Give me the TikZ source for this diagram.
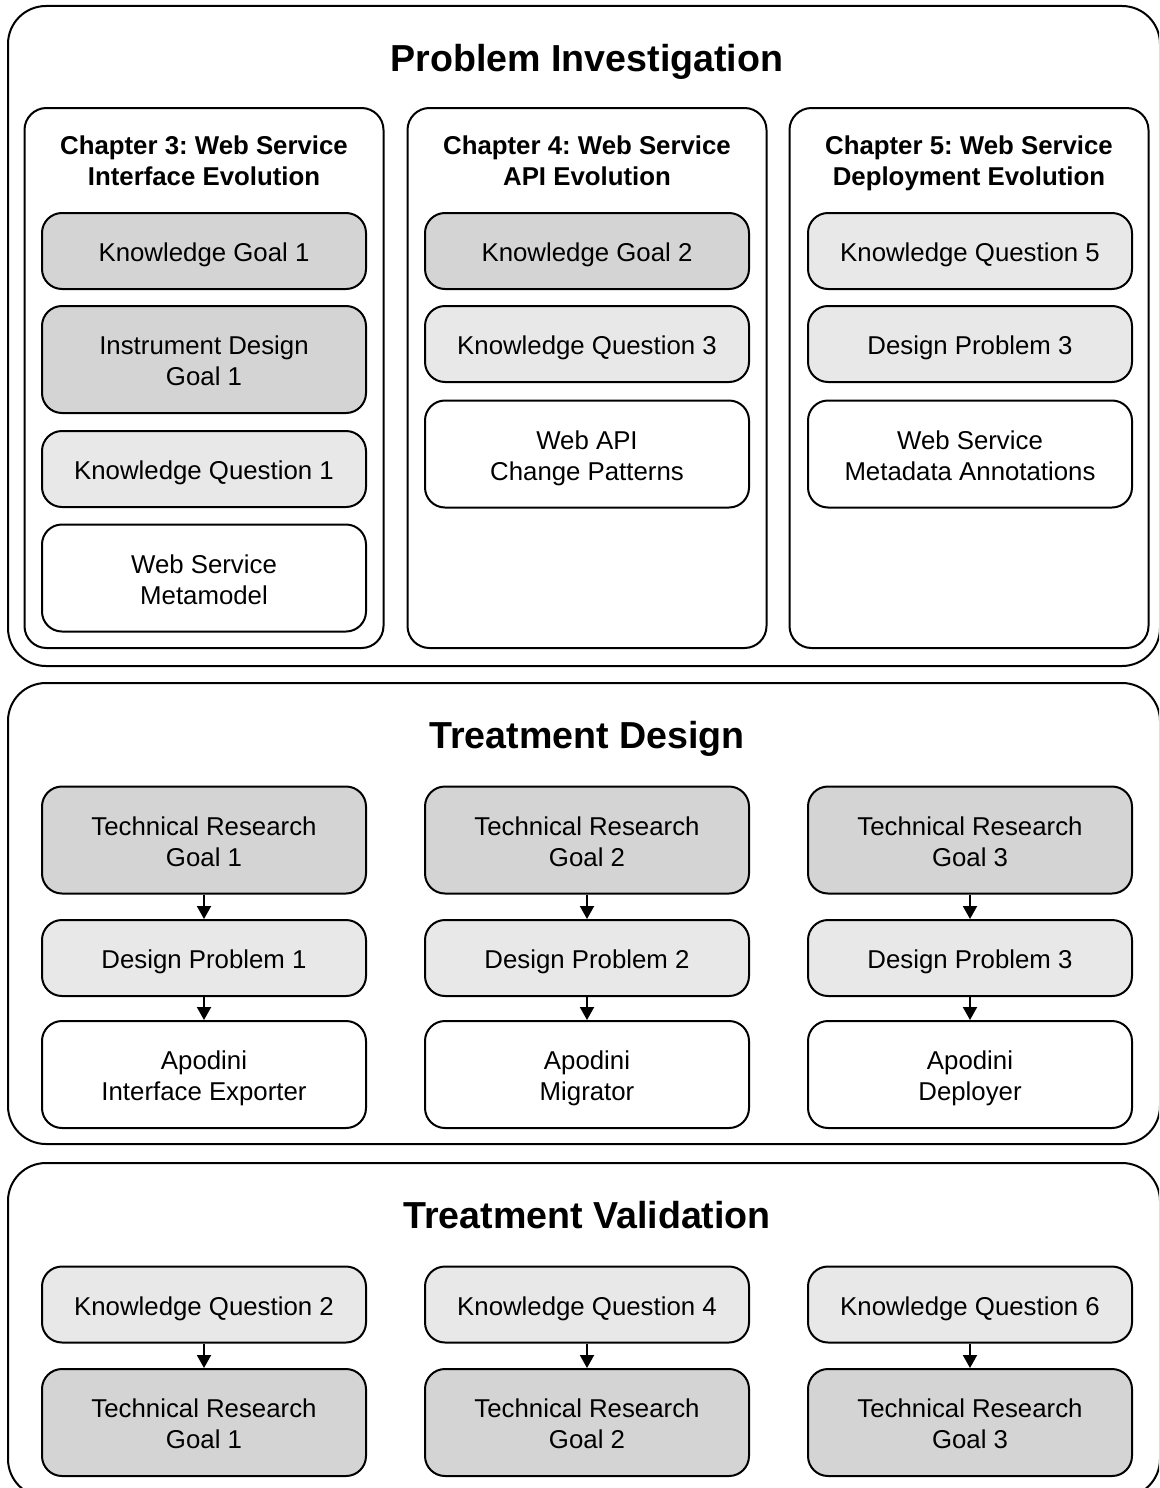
\documentclass[tikz,border=0pt]{standalone}
\usepackage{fontspec}
\setmainfont{Liberation Sans}
\usetikzlibrary{arrows.meta}
\definecolor{goalfill}{HTML}{D4D4D4}
\definecolor{questfill}{HTML}{E8E8E8}
% fixed line height and depth, so every label sits at the same height in its box
\newcommand\lineprop{\rule[-6pt]{0pt}{33.5pt}}
\newcommand\tophold{\rule{0pt}{27.5pt}}
\newcommand\bottomhold{\rule[-6pt]{0pt}{6pt}}
\newcommand\twoline[2]{\tophold#1\\#2\bottomhold}
\begin{document}
\frenchspacing
\begin{tikzpicture}[x=1pt,y=-1pt,
  panel/.style={draw, line width=2pt, rounded corners=38pt, inner sep=0pt, minimum width=1152pt},
  chapter/.style={draw, line width=2pt, rounded corners=22pt, inner sep=0pt, minimum width=359pt, minimum height=540pt},
  item/.style={draw, line width=2pt, rounded corners=20pt, inner sep=0pt, minimum width=324pt,
    align=center, font=\fontsize{25.8}{31}\selectfont},
  goal/.style={item, fill=goalfill},
  quest/.style={item, fill=questfill},
  result/.style={item, fill=white},
  short/.style={minimum height=76pt, execute at begin node=\lineprop},
  tall/.style={minimum height=107pt},
  phase/.style={anchor=base, inner sep=0pt, font=\fontsize{37.6}{45}\selectfont\bfseries},
  chtitle/.style={align=center, inner sep=0pt, font=\fontsize{25.8}{31}\selectfont\bfseries},
  flow/.style={line width=2pt, -{Triangle[length=13pt,width=14pt]}}
]
\useasboundingbox (0,0) rectangle (1159,1488);
\clip (0,0) rectangle (1159,1488);

% ---------- Problem Investigation ----------
\node[panel, minimum height=660pt] (pi) at (584,336) {};
\node[phase] (pititle) at (587,71) {Problem Investigation};

\node[chapter] (ch3) at (204,378) {};
\node[chapter] (ch4) at (587,378) {};
\node[chapter] (ch5) at (969,378) {};
\node[chtitle] (ch3t) at (204,159) {\twoline{Chapter 3: Web Service}{Interface Evolution}};
\node[chtitle] (ch4t) at (587,159) {\twoline{Chapter 4: Web Service}{API Evolution}};
\node[chtitle] (ch5t) at (969,159) {\twoline{Chapter 5: Web Service}{Deployment Evolution}};

\node[goal, short]  (kg1)  at (204,251)   {Knowledge Goal 1};
\node[goal, tall]   (idg1) at (204,359.5) {\twoline{Instrument Design}{Goal 1}};
\node[quest, short] (kq1)  at (204,469)   {Knowledge Question 1};
\node[result, tall] (wsm)  at (204,578)   {\twoline{Web Service}{Metamodel}};

\node[goal, short]  (kg2)  at (587,251) {Knowledge Goal 2};
\node[quest, short] (kq3)  at (587,344) {Knowledge Question 3};
\node[result, tall] (wacp) at (587,454) {\twoline{Web API}{Change Patterns}};

\node[quest, short] (kq5)  at (970,251) {Knowledge Question 5};
\node[quest, short] (dp3a) at (970,344) {Design Problem 3};
\node[result, tall] (wsma) at (970,454) {\twoline{Web Service}{Metadata Annotations}};

% ---------- Treatment Design ----------
\node[panel, minimum height=461pt] (td) at (584,913.5) {};
\node[phase] (tdtitle) at (587,748) {Treatment Design};

\node[goal, tall]   (trg1) at (204,840)    {\twoline{Technical Research}{Goal 1}};
\node[quest, short] (dp1)  at (204,958)    {Design Problem 1};
\node[result, tall] (ap1)  at (204,1074.5) {\twoline{Apodini}{Interface Exporter}};

\node[goal, tall]   (trg2) at (587,840)    {\twoline{Technical Research}{Goal 2}};
\node[quest, short] (dp2)  at (587,958)    {Design Problem 2};
\node[result, tall] (ap2)  at (587,1074.5) {\twoline{Apodini}{Migrator}};

\node[goal, tall]   (trg3) at (970,840)    {\twoline{Technical Research}{Goal 3}};
\node[quest, short] (dp3)  at (970,958)    {Design Problem 3};
\node[result, tall] (ap3)  at (970,1074.5) {\twoline{Apodini}{Deployer}};

\draw[flow] (trg1) -- (dp1);
\draw[flow] (dp1) -- (ap1);
\draw[flow] (trg2) -- (dp2);
\draw[flow] (dp2) -- (ap2);
\draw[flow] (trg3) -- (dp3);
\draw[flow] (dp3) -- (ap3);

% ---------- Treatment Validation ----------
\node[panel, minimum height=334pt] (tv) at (584,1330) {};
\node[phase] (tvtitle) at (587,1228) {Treatment Validation};

\node[quest, short] (kq2)   at (204,1304.5) {Knowledge Question 2};
\node[goal, tall]   (trgv1) at (204,1422.5) {\twoline{Technical Research}{Goal 1}};

\node[quest, short] (kq4)   at (587,1304.5) {Knowledge Question 4};
\node[goal, tall]   (trgv2) at (587,1422.5) {\twoline{Technical Research}{Goal 2}};

\node[quest, short] (kq6)   at (970,1304.5) {Knowledge Question 6};
\node[goal, tall]   (trgv3) at (970,1422.5) {\twoline{Technical Research}{Goal 3}};

\draw[flow] (kq2) -- (trgv1);
\draw[flow] (kq4) -- (trgv2);
\draw[flow] (kq6) -- (trgv3);
\end{tikzpicture}
\end{document}
